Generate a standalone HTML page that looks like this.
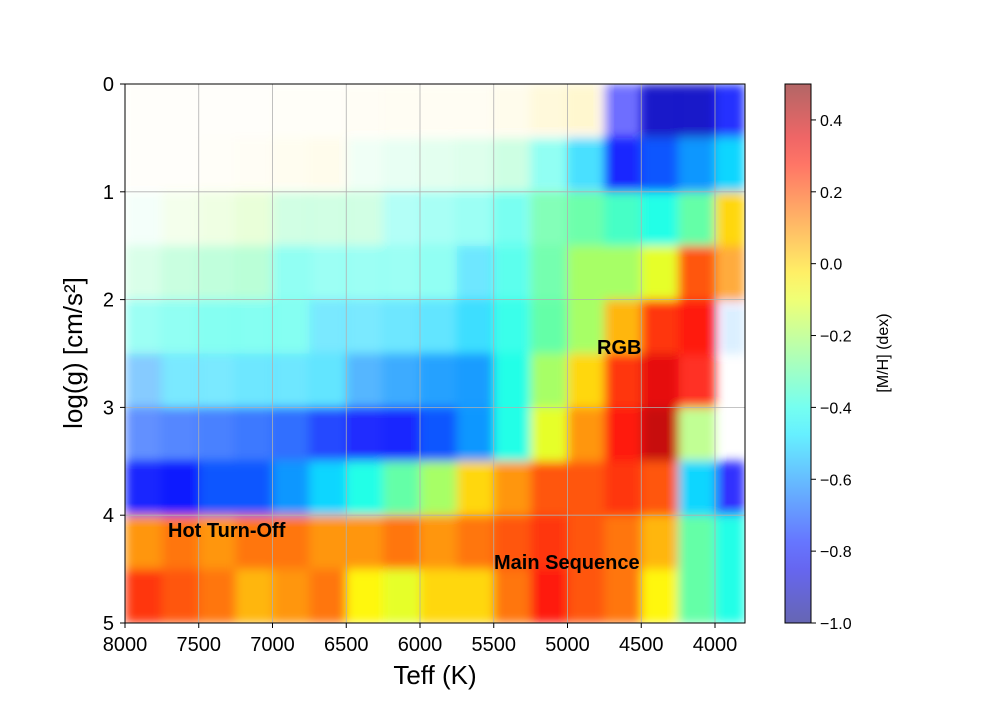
<!DOCTYPE html>
<html><head><meta charset="utf-8"><style>
body{margin:0;background:#fff;font-family:"Liberation Sans",sans-serif}
</style></head><body>
<svg id="chart" width="1000" height="700" viewBox="0 0 1000 700" xmlns="http://www.w3.org/2000/svg">
<defs>
<clipPath id="pc"><rect x="125" y="84" width="620" height="539"/></clipPath>
<filter id="bl" x="-5%" y="-5%" width="110%" height="110%"><feGaussianBlur stdDeviation="5"/></filter>
<linearGradient id="cbg" x1="0" y1="1" x2="0" y2="0"></linearGradient>
</defs>
<g id="cells" clip-path="url(#pc)"><g id="cellsInner" filter="url(#bl)"></g></g>
<g id="grid"></g>
<rect x="125" y="84" width="620" height="539" fill="none" stroke="#000" stroke-width="1"/>
<g id="ticks" font-size="20" fill="#000"></g>
<text x="435" y="684" font-size="26" text-anchor="middle">Teff (K)</text>
<text x="0" y="0" font-size="26" text-anchor="middle" transform="translate(82,353) rotate(-90)">log(g) [cm/s²]</text>
<text x="597" y="354" font-size="20" font-weight="bold">RGB</text>
<text x="168" y="537" font-size="20" font-weight="bold">Hot Turn-Off</text>
<text x="494" y="569" font-size="20" font-weight="bold">Main Sequence</text>
<rect x="785" y="84" width="26" height="539" fill="url(#cbg)" opacity="0.6"/>
<rect x="785" y="84" width="26" height="539" fill="none" stroke="#000" stroke-width="1"/>
<g id="cbticks" font-size="16"></g>
<text x="0" y="0" font-size="16" text-anchor="middle" transform="translate(888,353) rotate(-90)">[M/H] (dex)</text>
</svg>
<script>
const teffBinEdges=[8000,7750,7500,7250,7000,6750,6500,6250,6000,5750,5500,5250,5000,4750,4500,4250,4000,3800];
const loggBinEdges=[0,0.5,1,1.5,2,2.5,3,3.5,4,4.5,5];
const mh=[
[0,0,0,0,0,0,0,0,0,0,0,0,0,-0.8,-0.9,-0.9,-0.8],
[0,0,0,0,0,0,-0.3,-0.3,-0.3,-0.3,-0.3,-0.4,-0.5,-0.8,-0.7,-0.6,-0.5],
[-0.3,-0.2,-0.2,-0.2,-0.3,-0.3,-0.3,-0.4,-0.4,-0.4,-0.4,-0.3,-0.3,-0.35,-0.4,-0.3,0.0],
[-0.3,-0.3,-0.3,-0.3,-0.4,-0.4,-0.4,-0.4,-0.4,-0.5,-0.4,-0.3,-0.2,-0.2,-0.1,0.2,0.1],
[-0.4,-0.4,-0.4,-0.4,-0.4,-0.5,-0.5,-0.5,-0.5,-0.5,-0.4,-0.3,-0.2,0.05,0.25,0.3,-0.6],
[-0.6,-0.5,-0.5,-0.5,-0.5,-0.5,-0.6,-0.6,-0.6,-0.6,-0.4,-0.2,0,0.25,0.35,0.3,0],
[-0.7,-0.7,-0.7,-0.7,-0.7,-0.75,-0.8,-0.8,-0.7,-0.6,-0.4,-0.1,0.1,0.3,0.4,-0.2,0],
[-0.8,-0.8,-0.7,-0.7,-0.6,-0.5,-0.4,-0.3,-0.2,0,0.1,0.2,0.2,0.25,0.2,-0.5,-0.8],
[0.1,0.15,0.1,0.15,0.15,0.1,0.1,0.15,0.1,0.15,0.2,0.25,0.2,0.15,0.05,-0.3,-0.4],
[0.25,0.2,0.15,0.05,0.1,0.15,-0.05,-0.1,0,0,0.15,0.3,0.2,0.15,-0.05,-0.3,-0.4]];
const density=[
[0.02,0.02,0.02,0.02,0.03,0.03,0.04,0.05,0.05,0.05,0.08,0.15,0.2,0.6,0.95,0.95,0.9],
[0.02,0.02,0.03,0.04,0.06,0.08,0.1,0.14,0.18,0.22,0.32,0.5,0.75,0.95,1,1,1],
[0.06,0.12,0.18,0.25,0.3,0.3,0.3,0.35,0.4,0.45,0.6,0.8,0.95,1,1,1,1],
[0.25,0.35,0.4,0.45,0.5,0.45,0.45,0.45,0.5,0.6,0.75,0.9,1,1,1,1,0.8],
[0.45,0.5,0.55,0.55,0.55,0.55,0.55,0.6,0.65,0.8,0.9,1,1,1,1,1,0.15],
[0.5,0.55,0.55,0.6,0.6,0.65,0.7,0.8,0.9,0.95,1,1,1,1,1,0.9,0],
[0.65,0.7,0.75,0.8,0.85,0.9,0.92,0.95,1,1,1,1,1,1,1,0.7,0],
[0.95,1,1,1,1,1,1,1,1,1,1,1,1,1,1,1,0.85],
[1,1,1,1,1,1,1,1,1,1,1,1,1,1,1,1,1],
[1,1,1,1,1,1,1,1,1,1,1,1,1,1,1,1,1]];
const xTicks=[8000,7500,7000,6500,6000,5500,5000,4500,4000];
const yTicks=[0,1,2,3,4,5];
const cbTicks=[0.4,0.2,0.0,-0.2,-0.4,-0.6,-0.8,-1.0];
const NS="http://www.w3.org/2000/svg";
const xS=t=>125+(8000-t)*0.1475;
const yS=g=>84+g*107.8;
const cS=v=>84+(0.5-v)/1.5*539;
function jet(v){const t=Math.max(0,Math.min(1,(v+1)/1.5));const c=x=>Math.round(255*Math.max(0,Math.min(1,1.5-Math.abs(4*t-x))));return `rgb(${c(3)},${c(2)},${c(1)})`;}
function mk(tag,attrs,parent){const e=document.createElementNS(NS,tag);for(const k in attrs)e.setAttribute(k,attrs[k]);parent.appendChild(e);return e;}
const cg=document.getElementById('cellsInner');
for(let r=0;r<mh.length;r++)for(let c=0;c<mh[r].length;c++){
 if(density[r][c]<=0)continue;
 const x0=xS(teffBinEdges[c]),x1=xS(teffBinEdges[c+1]);
 const e=mk('rect',{x:x0,y:yS(loggBinEdges[r]),width:x1-x0+0.5,height:yS(loggBinEdges[r+1])-yS(loggBinEdges[r])+0.5,fill:jet(mh[r][c]),'fill-opacity':density[r][c]*0.95},cg);
 
 
}
const gg=document.getElementById('grid'),tg=document.getElementById('ticks');
xTicks.forEach(t=>{const x=xS(t);
 const l=mk('line',{x1:x,x2:x,y1:84,y2:623,stroke:'#b0b0b0','stroke-width':0.8},gg);
 
 mk('line',{x1:x,x2:x,y1:623,y2:628,stroke:'#000'},tg);
 const tx=mk('text',{x:x,y:651,'text-anchor':'middle'},tg);tx.textContent=t;
 });
yTicks.forEach(g=>{const y=yS(g);
 const l=mk('line',{x1:125,x2:745,y1:y,y2:y,stroke:'#b0b0b0','stroke-width':0.8},gg);
 
 mk('line',{x1:120,x2:125,y1:y,y2:y,stroke:'#000'},tg);
 const tx=mk('text',{x:114,y:y+7,'text-anchor':'end'},tg);tx.textContent=g;
 });
const grad=document.getElementById('cbg');
for(let i=0;i<=20;i++){mk('stop',{offset:i/20,'stop-color':jet(-1+1.5*i/20)},grad);}
const cb=document.getElementById('cbticks');
cbTicks.forEach(v=>{const y=cS(v);
 mk('line',{x1:811,x2:816,y1:y,y2:y,stroke:'#000'},cb);
 const tx=mk('text',{x:820,y:y+6},cb);tx.textContent=(v<0?'\u2212':'')+Math.abs(v).toFixed(1);
 });
</script>
</body></html>
